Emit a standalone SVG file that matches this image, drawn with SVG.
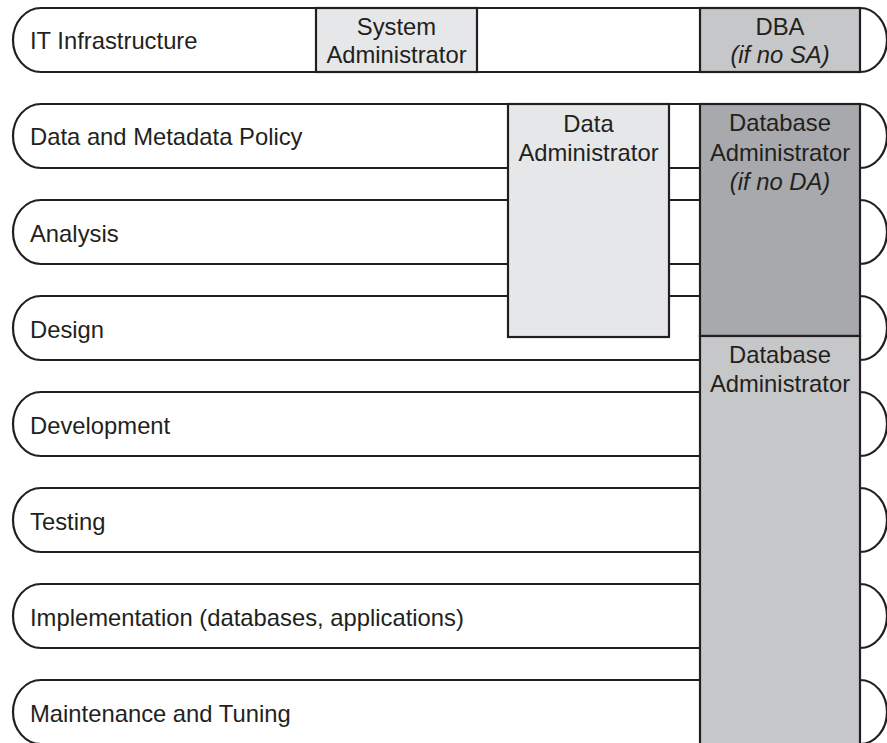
<svg xmlns="http://www.w3.org/2000/svg" width="887" height="743" viewBox="0 0 887 743">
<style>
.row{fill:#ffffff;stroke:#231f20;stroke-width:2.2}
.box{stroke:#231f20;stroke-width:2.2}
.light{fill:#e6e7e8}
.mid{fill:#c6c7c9}
.dark{fill:#a7a9ac}
text{font-family:"Liberation Sans",Arial,sans-serif;font-size:23.8px;fill:#231f20}
.c{text-anchor:middle}
.i{font-style:italic}
</style>
<rect width="887" height="743" fill="#ffffff"/>
<g id="row-it">
<path class="row" d="M41 8 H860 A27 32 0 0 1 860 72 H41 A28 32 0 0 1 41 8 Z"/>
<text x="30" y="49">IT Infrastructure</text>
</g>
<g id="row-policy">
<path class="row" d="M41 104 H860 A27 32 0 0 1 860 168 H41 A28 32 0 0 1 41 104 Z"/>
<text x="30" y="145">Data and Metadata Policy</text>
</g>
<g id="row-analysis">
<path class="row" d="M41 200 H860 A27 32 0 0 1 860 264 H41 A28 32 0 0 1 41 200 Z"/>
<text x="30" y="242">Analysis</text>
</g>
<g id="row-design">
<path class="row" d="M41 296 H860 A27 32 0 0 1 860 360 H41 A28 32 0 0 1 41 296 Z"/>
<text x="30" y="338">Design</text>
</g>
<g id="row-development">
<path class="row" d="M41 392 H860 A27 32 0 0 1 860 456 H41 A28 32 0 0 1 41 392 Z"/>
<text x="30" y="434">Development</text>
</g>
<g id="row-testing">
<path class="row" d="M41 488 H860 A27 32 0 0 1 860 552 H41 A28 32 0 0 1 41 488 Z"/>
<text x="30" y="530">Testing</text>
</g>
<g id="row-implementation">
<path class="row" d="M41 584 H860 A27 32 0 0 1 860 648 H41 A28 32 0 0 1 41 584 Z"/>
<text x="30" y="626">Implementation (databases, applications)</text>
</g>
<g id="row-maintenance">
<path class="row" d="M41 680 H860 A27 32 0 0 1 860 744 H41 A28 32 0 0 1 41 680 Z"/>
<text x="30" y="722">Maintenance and Tuning</text>
</g>
<g id="box-sa">
<rect class="box light" x="316" y="8" width="161" height="64"/>
<text class="c" x="396.5" y="35">System</text>
<text class="c" x="396.5" y="63">Administrator</text>
</g>
<g id="box-dba-no-sa">
<rect class="box mid" x="700" y="8" width="160" height="64"/>
<text class="c" x="780" y="35">DBA</text>
<text class="c i" x="780" y="63">(if no SA)</text>
</g>
<g id="box-da">
<rect class="box light" x="508" y="104" width="161" height="233"/>
<text class="c" x="588.5" y="132">Data</text>
<text class="c" x="588.5" y="161">Administrator</text>
</g>
<g id="box-dba-no-da">
<rect class="box dark" x="700" y="104" width="160" height="232"/>
<text class="c" x="780" y="131">Database</text>
<text class="c" x="780" y="161">Administrator</text>
<text class="c i" x="780" y="190">(if no DA)</text>
</g>
<g id="box-dba">
<rect class="box mid" x="700" y="336" width="160" height="420"/>
<text class="c" x="780" y="363">Database</text>
<text class="c" x="780" y="392">Administrator</text>
</g>
<g id="connectors"/>
</svg>
